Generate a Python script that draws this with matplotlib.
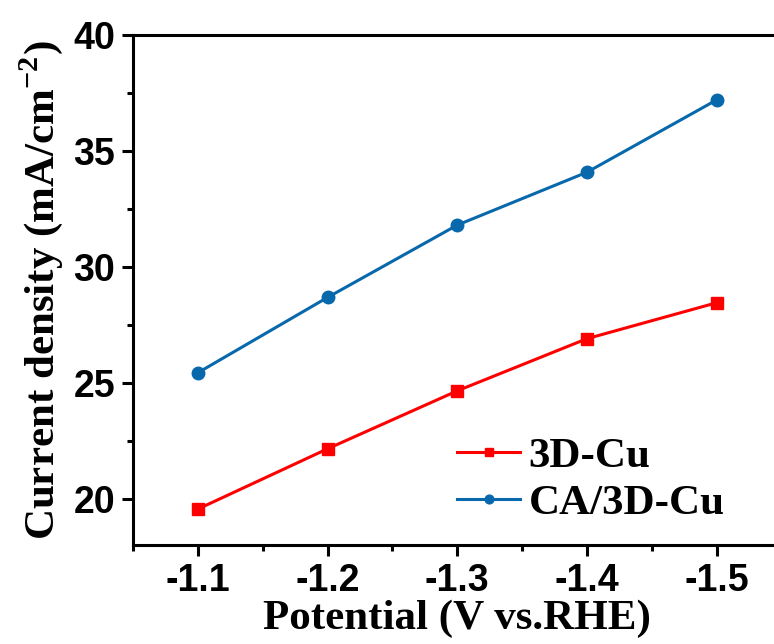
import matplotlib
matplotlib.use("Agg")
import matplotlib.pyplot as plt
from matplotlib.ticker import MultipleLocator

plt.rcParams['mathtext.fontset'] = 'custom'
plt.rcParams['mathtext.rm'] = 'Liberation Serif:bold'
plt.rcParams['mathtext.bf'] = 'Liberation Serif:bold'

# data
potential = [-1.1, -1.2, -1.3, -1.4, -1.5]
cu3d = [19.55, 22.15, 24.65, 26.9, 28.45]
ca_cu3d = [25.43, 28.68, 31.8, 34.08, 37.2]

fig = plt.figure(figsize=(7.74, 6.44), dpi=100)
ax = fig.add_axes([133 / 774, 1 - 545 / 644, 648.5 / 774, 510 / 644])

ax.plot(potential, cu3d, color='#ff0000', lw=2.2, marker='s', ms=9, label='3D-Cu')
ax.plot(potential, ca_cu3d, color='#0868ac', lw=2.2, marker='o', ms=9, label='CA/3D-Cu')

ax.set_xlim(-1.05, -1.55)
ax.set_ylim(18, 40)
ax.xaxis.set_minor_locator(MultipleLocator(0.05))
ax.yaxis.set_major_locator(MultipleLocator(5))
ax.yaxis.set_minor_locator(MultipleLocator(2.5))
ax.set_xticks(potential)
ax.set_xticklabels(['-1.1', '-1.2', '-1.3', '-1.4', '-1.5'])

for s in ax.spines.values():
    s.set_linewidth(2.2)
ax.tick_params(which='major', direction='out', length=8, width=2.2, labelsize=27, pad=5)
ax.tick_params(which='minor', direction='out', length=4, width=2.2)
for lab in ax.get_xticklabels() + ax.get_yticklabels():
    lab.set_fontfamily('Liberation Sans')
    lab.set_fontweight('bold')

ax.set_xlabel('Potential (V vs.RHE)', fontfamily='Liberation Serif', fontweight='bold',
              fontsize=31, labelpad=0)
ax.set_ylabel('Current density (mA/cm$^{-2}$)', fontfamily='Liberation Serif',
              fontweight='bold', fontsize=31, labelpad=6)

leg = ax.legend(loc='lower left', bbox_to_anchor=(0.467, 0.0), frameon=False,
                prop={'family': 'Liberation Serif', 'weight': 'bold', 'size': 31},
                borderpad=0, handlelength=1.45, handletextpad=0.2, labelspacing=0.2,
                markerscale=0.7)

fig.savefig('out.png', dpi=100)
